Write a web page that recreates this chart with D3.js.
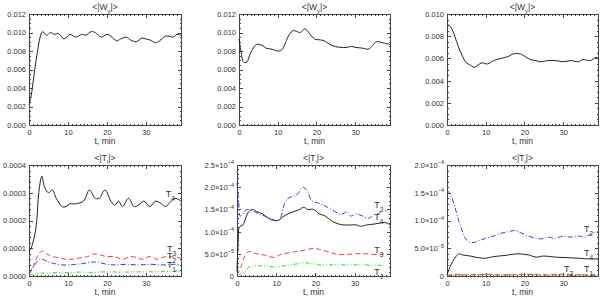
<!DOCTYPE html>
<html>
<head>
<meta charset="utf-8">
<script src="https://cdn.jsdelivr.net/npm/d3@7"></script>
<style>
  body { margin: 0; background: #fff; }
  svg { display: block; font-family: "Liberation Sans", Arial, sans-serif; }
  .frame { fill: none; stroke: #444; stroke-width: 1; shape-rendering: crispEdges; }
  .axis path { display: none; }
  .axis line { stroke: #444; shape-rendering: crispEdges; }
  .axis text { font-size: 7.5px; fill: #333; font-family: "Liberation Sans", Arial, sans-serif; }
  .title, .x-title { font-size: 8.5px; fill: #333; }
  .series { fill: none; stroke-width: 1; }
  .series-label { font-size: 9px; fill: #333; }
</style>
</head>
<body>
<svg id="chart" width="600" height="300"></svg>
<script>
// [t (min), value]
const wyRunA = [[0,0.0022],[0.5,0.0030],[1,0.0045],[2,0.0075],[3,0.0097],[3.5,0.0101],[4.5,0.0097],[5.5,0.0100],[6.5,0.0098],[7.5,0.0099],[9,0.0093],[10.5,0.0098],[12,0.0095],[13.5,0.0098],[14.5,0.0097],[16,0.0101],[17,0.0100],[18.5,0.0095],[20,0.0098],[21,0.0096],[22.5,0.0091],[23.5,0.0093],[25,0.0095],[26,0.0092],[27.5,0.0090],[29,0.0094],[30,0.0093],[31,0.0092],[32.5,0.0089],[33.5,0.0091],[35,0.0096],[36,0.0096],[37,0.0095],[38,0.0098],[39,0.0097]];
const wyRunB = [[0,0.0093],[0.5,0.0080],[1.2,0.0068],[2,0.0068],[3,0.0078],[4.5,0.0087],[6,0.0086],[7,0.0083],[8.5,0.0082],[10,0.0080],[11,0.0081],[12,0.0089],[13,0.0098],[14,0.0102],[15,0.0101],[15.8,0.0100],[17,0.0104],[18,0.0100],[19.5,0.0093],[21,0.0092],[22,0.0091],[24,0.0086],[26,0.0084],[28,0.0084],[29,0.0085],[30,0.0084],[32,0.0083],[33.5,0.0082],[34.5,0.0086],[35.5,0.0090],[37,0.0089],[39,0.0087]];
const wyRunC = [[0,0.0091],[1,0.0088],[2,0.0080],[3,0.0070],[4,0.0062],[5,0.0056],[6,0.0054],[7,0.0052],[8,0.0054],[9,0.0056],[10.5,0.0055],[12,0.0058],[14,0.0060],[16,0.0062],[17,0.0064],[19,0.0064],[20,0.0062],[21.5,0.0059],[23,0.0058],[24,0.0057],[26,0.0058],[28,0.0058],[30,0.0057],[32,0.0058],[34,0.0057],[35,0.0059],[37,0.0058],[38.5,0.0061],[39,0.0060]];

const t4RunA = [[0,0.00009],[0.5,0.0001],[1,0.00012],[1.5,0.00015],[2,0.0002],[2.5,0.0003],[3.3,0.00036],[4,0.00032],[5,0.00030],[6,0.00031],[7,0.00028],[8.5,0.00025],[9.5,0.00025],[10.5,0.00026],[12,0.00026],[14,0.00027],[15.5,0.00031],[17,0.00028],[18,0.00028],[19.5,0.00031],[21,0.00027],[22,0.000255],[23,0.00027],[24,0.00025],[25.5,0.00028],[27,0.00025],[28.5,0.00026],[29.5,0.00027],[31,0.00025],[32.5,0.00027],[34,0.00026],[35,0.00025],[36.5,0.00027],[37.5,0.00028],[39,0.00027]];
const t3RunA = [[0,0.000005],[1,0.00003],[1.8,0.00006],[2.5,0.00008],[3.3,0.00009],[4.5,0.00008],[6,0.00007],[8,0.000065],[9.5,0.00006],[11,0.00006],[13,0.000065],[15,0.00007],[17,0.00008],[18.5,0.000075],[20,0.00007],[22,0.00007],[24,0.00006],[26,0.00007],[28,0.000065],[29,0.00006],[31,0.00007],[33,0.00006],[35,0.00007],[37,0.000068],[39,0.000065]];
const t2RunA = [[0,0.00001],[1,0.00003],[2,0.00005],[2.8,0.00006],[3.5,0.00006],[5,0.00005],[6.5,0.000045],[8,0.00004],[10,0.00004],[12,0.000042],[14,0.000045],[16,0.00005],[17.5,0.00005],[20,0.000042],[22,0.00004],[25,0.000042],[28,0.00004],[31,0.000042],[34,0.00004],[36,0.00004],[37,0.000042],[39,0.00004]];
const t1RunA = [[0,0.000002],[1.5,0.000006],[3,0.00001],[5,0.000011],[8,0.000012],[10,0.000012],[13,0.000014],[16,0.000013],[20,0.000015],[24,0.000014],[28,0.000015],[32,0.000015],[35,0.000016],[37,0.000017],[39,0.000017]];

const t4RunB = [[0,0.00001],[0.3,0.00008],[0.6,0.00011],[1.5,0.000115],[2.2,0.00013],[3,0.000145],[4,0.00015],[5,0.000145],[6.5,0.00014],[8,0.00013],[9.5,0.000125],[10.5,0.000125],[12,0.000135],[13,0.00014],[14.5,0.000145],[16,0.00015],[17,0.000155],[18,0.00015],[19.5,0.00015],[21,0.00014],[22.5,0.000135],[24,0.000125],[25,0.00012],[27,0.000115],[29,0.000115],[30.5,0.000115],[31.5,0.000112],[33,0.000115],[35,0.000117],[37,0.00012],[38,0.00012],[39,0.000115]];
const t2RunB = [[0,0.00021],[0.4,0.00017],[0.8,0.000135],[1.5,0.00014],[2.2,0.000148],[3,0.00015],[4.5,0.000145],[6,0.000138],[7,0.000135],[8.5,0.00013],[10,0.000125],[11,0.00013],[12,0.00016],[13,0.000175],[14.5,0.00018],[15.5,0.000185],[16.8,0.0002],[18,0.00019],[19,0.00017],[20.5,0.000165],[22,0.00016],[23,0.000155],[24,0.00015],[25,0.000145],[26,0.00014],[27,0.00014],[28,0.000145],[29,0.000135],[30.5,0.00014],[32,0.000135],[33.5,0.00013],[35,0.000138],[36,0.00014],[37.5,0.00015],[38,0.000145]];
const t3RunB = [[0,0.000002],[1,0.00002],[2,0.000045],[3,0.000055],[5,0.00005],[7,0.000047],[9.5,0.000042],[11,0.000048],[13,0.000052],[15,0.000055],[17,0.000058],[19.5,0.000062],[21,0.00006],[23,0.000055],[25,0.00005],[27,0.000048],[30,0.00005],[33,0.00005],[36,0.000048],[37.5,0.00005]];
const t1RunB = [[0,0.000001],[1,0.000005],[2,0.00001],[3,0.00002],[4.5,0.000022],[6,0.000023],[8,0.000022],[10,0.00002],[12,0.000023],[15,0.000027],[17,0.00003],[19,0.000028],[21,0.000025],[24,0.000025],[28,0.000025],[32,0.000025],[36,0.000024],[37.5,0.000024]];

const t2RunC = [[0,0.000155],[1,0.000145],[2,0.000125],[3,0.0001],[4,0.00008],[5,0.000065],[6.5,0.00006],[8,0.000063],[10,0.000068],[12,0.000072],[14,0.000077],[16,0.00008],[17.5,0.000082],[19,0.000078],[21,0.000072],[23,0.000068],[24.5,0.000067],[26,0.00007],[28,0.000068],[30,0.000072],[32,0.00007],[34,0.000072],[35.5,0.00007],[37,0.000075],[39,0.00008]];
const t4RunC = [[0,0.000002],[1,0.00002],[2,0.000032],[3,0.00004],[4,0.000038],[6,0.000036],[8,0.000033],[10,0.000032],[12,0.000035],[15,0.000037],[18,0.00004],[21,0.000038],[23,0.000034],[25,0.000036],[28,0.000034],[31,0.000033],[34,0.000032],[36,0.000031],[39,0.000031]];
const t3RunC = [[0,0.000001],[2,0.000003],[5,0.000002],[10,0.000003],[15,0.000002],[20,0.000003],[25,0.000002],[30,0.000003],[35,0.000002],[39,0.000002]];
const t1RunC = [[0,0.000001],[3,0.000002],[8,0.000003],[14,0.000002],[20,0.000003],[26,0.000002],[32,0.000002],[39,0.000002]];

// axis ticks
const xTicks = [0, 10, 20, 30];
const yTicksW12 = [0, 0.002, 0.004, 0.006, 0.008, 0.010, 0.012];
const yLabelsW12 = ['0.000', '0.002', '0.004', '0.006', '0.008', '0.010', '0.012'];
const yTicksW10 = [0, 0.002, 0.004, 0.006, 0.008, 0.010];
const yLabelsW10 = ['0.000', '0.002', '0.004', '0.006', '0.008', '0.010'];
const yTicksTA = [0, 0.0001, 0.0002, 0.0003, 0.0004];
const yLabelsTA = ['0.0000', '0.0001', '0.0002', '0.0003', '0.0004'];
const yTicksTB = [0, 0.00005, 0.0001, 0.00015, 0.0002, 0.00025];
const yLabelsTB = ['0', '5.0×10^-5', '1.0×10^-4', '1.5×10^-4', '2.0×10^-4', '2.5×10^-4'];
const yTicksTC = [0, 0.00005, 0.0001, 0.00015, 0.0002];
const yLabelsTC = ['0', '5.0×10^-5', '1.0×10^-4', '1.5×10^-4', '2.0×10^-4'];

// curve labels: [name, subscript, t, value, suffix]
const labelsTA = [['T','4',35.1,0.000285,''],['T','3',35.4,0.0000865,''],['T','2',35.4,0.0000613,''],['T','1',35.4,0.0000288,'']];
const labelsTB = [['T','2',35,0.000153,''],['T','4',35,0.000126,''],['T','3',35,0.000052,''],['T','1',35,0.000002,'']];
const labelsTC = [['T','2',35.4,0.000079,''],['T','4',35.4,0.000036,''],['T','3',30.2,0.0000072,','],['T','1',35.4,0.0000072,'']];

const styles = {
  t4: {color: '#222', dash: null},
  t3: {color: '#e8403a', dash: '5,3'},
  t2: {color: '#3a3ad8', dash: '5,2,1,2'},
  t1: {color: '#3cc83c', dash: '4,2,1,2,1,2'}
};

class LinePanel {

  constructor(_config, _series, _labels) {
    this.config = {
      parentElement: _config.parentElement,
      left: _config.left,
      top: _config.top,
      width: _config.width,
      height: _config.height || 111,
      yMax: _config.yMax,
      yTicks: _config.yTicks,
      yLabels: _config.yLabels,
      yMinor: _config.yMinor,
      title: _config.title,
      titleSub: _config.titleSub
    };
    this.series = _series;
    this.labels = _labels || [];
    this.initVis();
  }

  initVis() {
    let vis = this;

    vis.xScale = d3.scaleLinear().domain([0, 39]).range([0, vis.config.width]);
    vis.yScale = d3.scaleLinear().domain([0, vis.config.yMax]).range([vis.config.height, 0]);

    vis.svg = d3.select(vis.config.parentElement);
    vis.chart = vis.svg.append('g')
        .attr('transform', `translate(${vis.config.left},${vis.config.top})`);

    let xMinor = d3.range(0, 39.01, 1);
    let yMinor = d3.range(0, vis.config.yMax * 1.0001, vis.config.yMinor);

    // minor ticks on all four sides
    vis.chart.append('g').attr('class', 'axis')
        .attr('transform', `translate(0,${vis.config.height})`)
        .call(d3.axisBottom(vis.xScale).tickValues(xMinor).tickSize(-1.5).tickFormat(''));
    vis.chart.append('g').attr('class', 'axis')
        .call(d3.axisTop(vis.xScale).tickValues(xMinor).tickSize(-1.5).tickFormat(''));
    vis.chart.append('g').attr('class', 'axis')
        .call(d3.axisLeft(vis.yScale).tickValues(yMinor).tickSize(-1.5).tickFormat(''));
    vis.chart.append('g').attr('class', 'axis')
        .attr('transform', `translate(${vis.config.width},0)`)
        .call(d3.axisRight(vis.yScale).tickValues(yMinor).tickSize(-1.5).tickFormat(''));

    // major ticks
    vis.xAxisG = vis.chart.append('g').attr('class', 'axis x-axis')
        .attr('transform', `translate(0,${vis.config.height})`)
        .call(d3.axisBottom(vis.xScale).tickValues(xTicks).tickSize(-3.5).tickPadding(5));
    vis.chart.append('g').attr('class', 'axis')
        .call(d3.axisTop(vis.xScale).tickValues(xTicks).tickSize(-3.5).tickFormat(''));
    vis.yAxisG = vis.chart.append('g').attr('class', 'axis y-axis')
        .call(d3.axisLeft(vis.yScale).tickValues(vis.config.yTicks).tickSize(-3.5).tickPadding(3)
            .tickFormat((d, i) => vis.config.yLabels[i]));
    vis.chart.append('g').attr('class', 'axis')
        .attr('transform', `translate(${vis.config.width},0)`)
        .call(d3.axisRight(vis.yScale).tickValues(vis.config.yTicks).tickSize(-3.5).tickFormat(''));

    // labels like 5.0x10^-5 get a superscript
    vis.yAxisG.selectAll('text').each(function() {
      let txt = d3.select(this);
      let parts = txt.text().split('^');
      if (parts.length > 1) {
        txt.text(parts[0]);
        txt.append('tspan').attr('dy', '-3.5').attr('font-size', '5.5px').text(parts[1].replace('-', '−'));
      }
    });

    vis.chart.append('rect')
        .attr('class', 'frame')
        .attr('width', vis.config.width)
        .attr('height', vis.config.height);

    let title = vis.chart.append('text')
        .attr('class', 'title')
        .attr('x', vis.config.width / 2)
        .attr('y', -4)
        .attr('text-anchor', 'middle');
    title.append('tspan').text('<|' + vis.config.title);
    title.append('tspan').attr('dy', 3).attr('font-size', '6px').text(vis.config.titleSub);
    title.append('tspan').attr('dy', -3).text('|>');

    vis.chart.append('text')
        .attr('class', 'x-title')
        .attr('x', vis.config.width / 2)
        .attr('y', vis.config.height + 19)
        .attr('text-anchor', 'middle')
        .text('t, min');

    vis.renderVis();
  }

  renderVis() {
    let vis = this;

    let line = d3.line()
        .x(d => vis.xScale(d[0]))
        .y(d => vis.yScale(d[1]))
        .curve(d3.curveCatmullRom.alpha(0.5));

    vis.chart.selectAll('.series')
        .data(vis.series)
        .join('path')
        .attr('class', 'series')
        .attr('d', d => line(d.values))
        .attr('stroke', d => d.style.color)
        .attr('stroke-dasharray', d => d.style.dash);

    let lbl = vis.chart.selectAll('.series-label')
        .data(vis.labels)
        .join('text')
        .attr('class', 'series-label')
        .attr('x', d => vis.xScale(d[2]))
        .attr('y', d => vis.yScale(d[3]));
    lbl.append('tspan').text(d => d[0]);
    lbl.append('tspan').attr('dy', 4).attr('font-size', '6.5px').text(d => d[1] + d[4]);
  }
}

const svgSel = '#chart';
new LinePanel({parentElement: svgSel, left: 29, top: 14, width: 152, yMax: 0.012, yTicks: yTicksW12, yLabels: yLabelsW12, yMinor: 0.0005, title: 'W', titleSub: 'y'},
  [{values: wyRunA, style: styles.t4}]);
new LinePanel({parentElement: svgSel, left: 239, top: 14, width: 151, yMax: 0.012, yTicks: yTicksW12, yLabels: yLabelsW12, yMinor: 0.0005, title: 'W', titleSub: 'y'},
  [{values: wyRunB, style: styles.t4}]);
new LinePanel({parentElement: svgSel, left: 447, top: 14, width: 151, yMax: 0.010, yTicks: yTicksW10, yLabels: yLabelsW10, yMinor: 0.0005, title: 'W', titleSub: 'y'},
  [{values: wyRunC, style: styles.t4}]);
new LinePanel({parentElement: svgSel, left: 29, top: 165, width: 152, yMax: 0.0004, yTicks: yTicksTA, yLabels: yLabelsTA, yMinor: 0.00002, title: 'T', titleSub: 'i'},
  [{values: t1RunA, style: styles.t1}, {values: t2RunA, style: styles.t2}, {values: t3RunA, style: styles.t3}, {values: t4RunA, style: styles.t4}], labelsTA);
new LinePanel({parentElement: svgSel, left: 237, top: 165, width: 153, yMax: 0.00025, yTicks: yTicksTB, yLabels: yLabelsTB, yMinor: 0.00001, title: 'T', titleSub: 'i'},
  [{values: t1RunB, style: styles.t1}, {values: t3RunB, style: styles.t3}, {values: t4RunB, style: styles.t4}, {values: t2RunB, style: styles.t2}], labelsTB);
new LinePanel({parentElement: svgSel, left: 447, top: 165, width: 151, yMax: 0.0002, yTicks: yTicksTC, yLabels: yLabelsTC, yMinor: 0.00001, title: 'T', titleSub: 'i'},
  [{values: t1RunC, style: styles.t1}, {values: t3RunC, style: styles.t3}, {values: t4RunC, style: styles.t4}, {values: t2RunC, style: styles.t2}], labelsTC);
</script>
</body>
</html>
